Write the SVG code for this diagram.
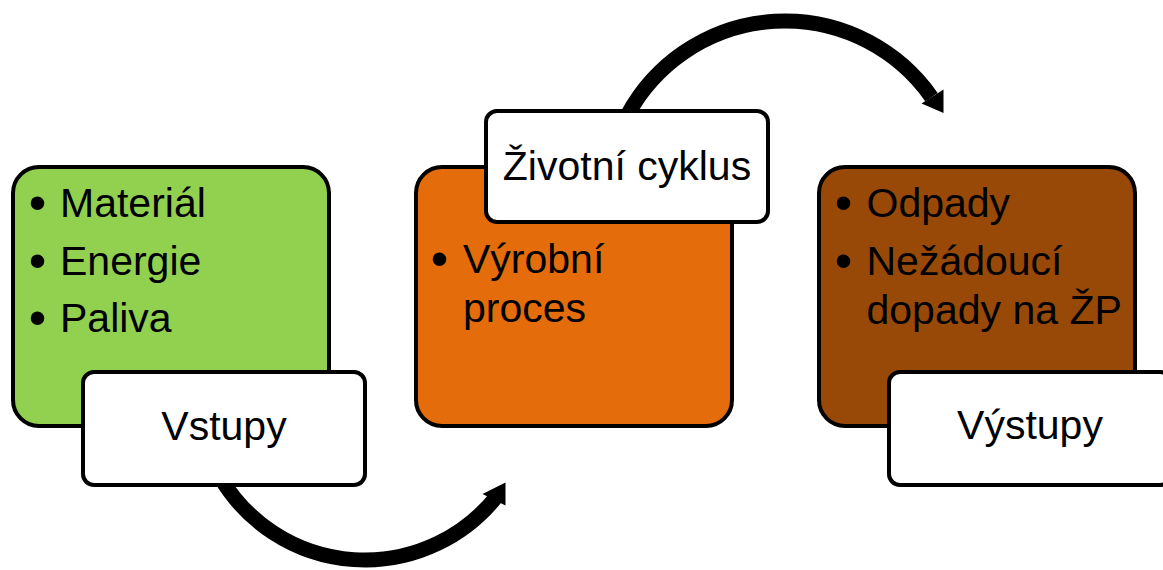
<svg xmlns="http://www.w3.org/2000/svg" width="1163" height="570" viewBox="0 0 1163 570">
  <style>
    .block { stroke: #000; stroke-width: 4; }
    .label { fill: #fff; stroke: #000; stroke-width: 4; }
    .txt { font-family: "Liberation Sans", Arial, sans-serif; font-size: 41px; fill: #000; }
    .bul { font-family: "Liberation Sans", Arial, sans-serif; font-size: 50px; fill: #000; text-anchor: middle; }
    .mid { text-anchor: middle; }
    .arc { fill: none; stroke: #000; stroke-width: 15; }
  </style>

  <!-- curved connectors (drawn first so the label boxes cover their tails) -->
  <g id="connectors">
    <path class="arc" d="M220.7,478 A168,168 0 0 0 496.5,496.6"/>
    <polygon points="505.5,482.5 482.5,494 505.5,505.5" fill="#000"/>
    <path class="arc" d="M627.5,115 A179,179 0 0 1 931.5,97.2"/>
    <polygon points="943.5,113 921.5,103.5 943.5,89.5" fill="#000"/>
  </g>

  <!-- inputs -->
  <g id="inputs">
    <rect class="block" x="13" y="167" width="316" height="259" rx="26" fill="#92D050"/>
    <text class="bul" x="37.5" y="220">•</text>
    <text class="txt" x="60" y="217">Materiál</text>
    <text class="bul" x="37.5" y="278">•</text>
    <text class="txt" x="60" y="275">Energie</text>
    <text class="bul" x="37.5" y="335">•</text>
    <text class="txt" x="60" y="332">Paliva</text>
  </g>
  <g id="inputs-label">
    <rect class="label" x="83" y="372" width="282" height="113" rx="11"/>
    <text class="txt mid" x="224" y="440">Vstupy</text>
  </g>

  <!-- production process -->
  <g id="process">
    <rect class="block" x="416" y="167" width="316" height="259" rx="26" fill="#E46C0A"/>
    <text class="bul" x="439.5" y="276">•</text>
    <text class="txt" x="463" y="273">Výrobní</text>
    <text class="txt" x="463" y="322">proces</text>
  </g>
  <g id="process-label">
    <rect class="label" x="486" y="111" width="282" height="111" rx="11"/>
    <text class="txt mid" x="627" y="180">Životní cyklus</text>
  </g>

  <!-- outputs -->
  <g id="outputs">
    <rect class="block" x="819" y="167" width="316" height="259" rx="26" fill="#984807"/>
    <text class="bul" x="843.5" y="220">•</text>
    <text class="txt" x="866.5" y="217">Odpady</text>
    <text class="bul" x="843.5" y="278">•</text>
    <text class="txt" x="866.5" y="275">Nežádoucí</text>
    <text class="txt" x="866.5" y="324">dopady na ŽP</text>
  </g>
  <g id="outputs-label">
    <rect class="label" x="889" y="372" width="282" height="113" rx="11"/>
    <text class="txt mid" x="1030" y="439">Výstupy</text>
  </g>
</svg>
